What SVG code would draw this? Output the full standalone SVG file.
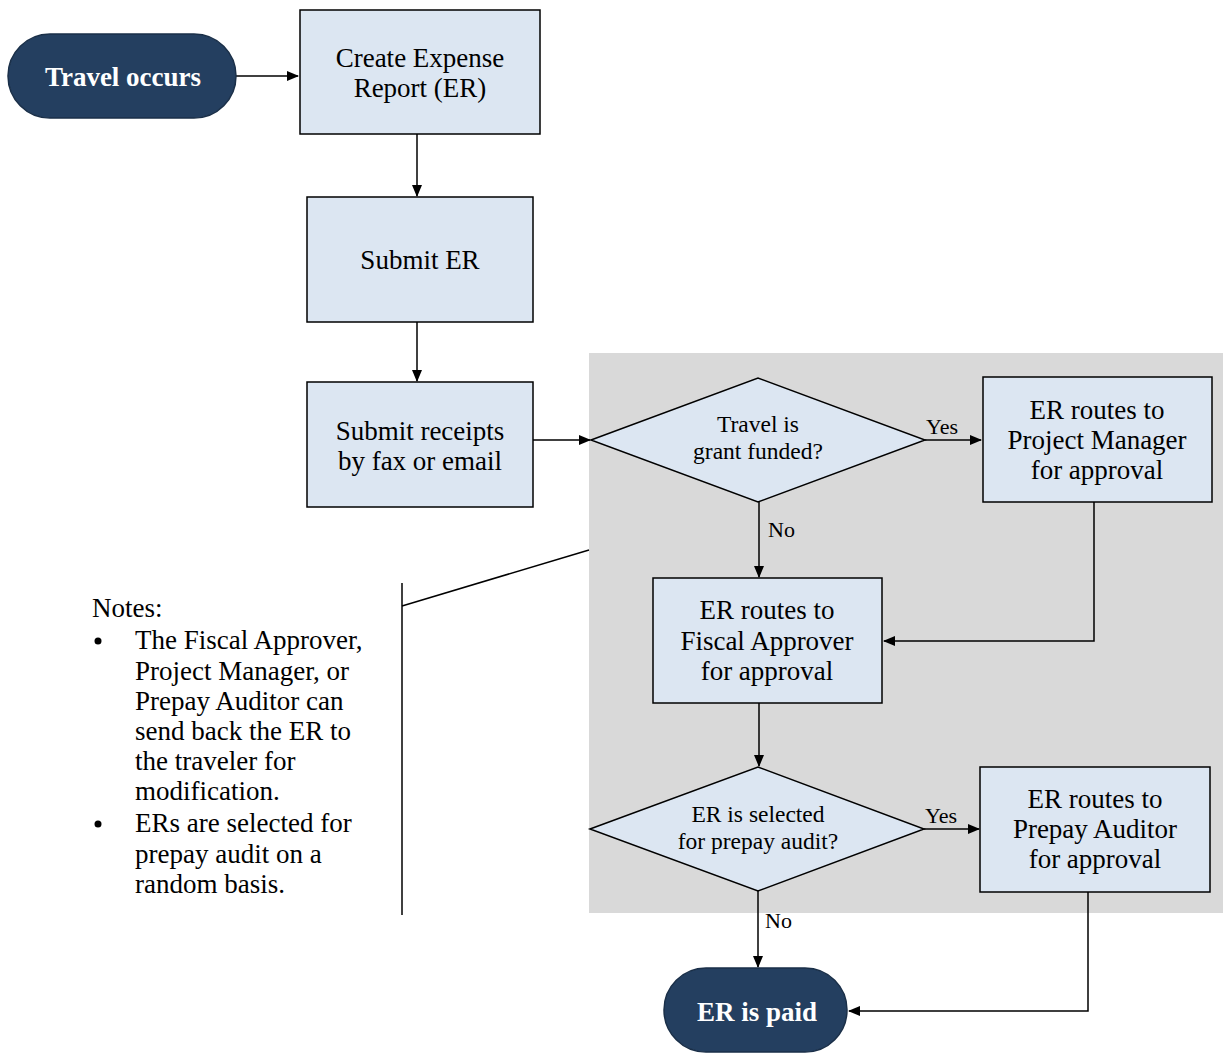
<svg xmlns="http://www.w3.org/2000/svg" width="1223" height="1053" viewBox="0 0 1223 1053">
<defs>
<marker id="arr" markerWidth="12" markerHeight="10" refX="11" refY="5" orient="auto" markerUnits="userSpaceOnUse">
<path d="M0,0 L12,5 L0,10 Z" fill="#000"/>
</marker>
<style>
.box{fill:#DCE6F2;stroke:#000;stroke-width:1.5}
.term{fill:#243F60;stroke:#1a2f48;stroke-width:1.5}
.t{font-family:"Liberation Serif","Times New Roman",serif;font-size:27px;fill:#000;text-anchor:middle}
.d{font-family:"Liberation Serif","Times New Roman",serif;font-size:23.5px;fill:#000;text-anchor:middle}
.tt{font-family:"Liberation Serif","Times New Roman",serif;font-size:27px;font-weight:bold;fill:#fff;text-anchor:middle}
.lbl{font-family:"Liberation Serif","Times New Roman",serif;font-size:22px;fill:#000}
.n{font-family:"Liberation Serif","Times New Roman",serif;font-size:27px;fill:#000}
.c{fill:none;stroke:#000;stroke-width:1.5}
</style>
</defs>
<rect x="589" y="353" width="634" height="560" fill="#D9D9D9"/>
<g id="connectors">
<line class="c" x1="236" y1="76" x2="298" y2="76" marker-end="url(#arr)"/>
<line class="c" x1="417" y1="134" x2="417" y2="196" marker-end="url(#arr)"/>
<line class="c" x1="417" y1="322" x2="417" y2="381" marker-end="url(#arr)"/>
<line class="c" x1="533" y1="440" x2="590" y2="440" marker-end="url(#arr)"/>
<line class="c" x1="925" y1="440" x2="981" y2="440" marker-end="url(#arr)"/>
<line class="c" x1="759" y1="502" x2="759" y2="577" marker-end="url(#arr)"/>
<polyline class="c" points="1094,502 1094,641 884,641" marker-end="url(#arr)"/>
<line class="c" x1="759" y1="703" x2="759" y2="766" marker-end="url(#arr)"/>
<line class="c" x1="924" y1="829" x2="979" y2="829" marker-end="url(#arr)"/>
<line class="c" x1="758" y1="891" x2="758" y2="967" marker-end="url(#arr)"/>
<polyline class="c" points="1088,892 1088,1011 849,1011" marker-end="url(#arr)"/>
<text class="lbl" x="926" y="434">Yes</text>
<text class="lbl" x="768" y="537">No</text>
<text class="lbl" x="925" y="823">Yes</text>
<text class="lbl" x="765" y="928">No</text>
</g>
<g id="travel-occurs">
<rect class="term" x="8" y="34" width="228" height="84" rx="42" ry="42"/>
<text class="tt" x="123" y="86">Travel occurs</text>
</g>
<g id="create-er">
<rect class="box" x="300" y="10" width="240" height="124"/>
<text class="t" x="420" y="67">Create Expense</text>
<text class="t" x="420" y="97">Report (ER)</text>
</g>
<g id="submit-er">
<rect class="box" x="307" y="197" width="226" height="125"/>
<text class="t" x="420" y="269">Submit ER</text>
</g>
<g id="submit-receipts">
<rect class="box" x="307" y="382" width="226" height="125"/>
<text class="t" x="420" y="440">Submit receipts</text>
<text class="t" x="420" y="470">by fax or email</text>
</g>
<g id="grant-funded">
<polygon class="box" points="591,440 758,378 925,440 758,502"/>
<text class="d" x="758" y="432">Travel is</text>
<text class="d" x="758" y="459">grant funded?</text>
</g>
<g id="pm-approval">
<rect class="box" x="983" y="377" width="229" height="125"/>
<text class="t" x="1097" y="419">ER routes to</text>
<text class="t" x="1097" y="449">Project Manager</text>
<text class="t" x="1097" y="479">for approval</text>
</g>
<g id="fiscal-approval">
<rect class="box" x="653" y="578" width="229" height="125"/>
<text class="t" x="767" y="619">ER routes to</text>
<text class="t" x="767" y="650">Fiscal Approver</text>
<text class="t" x="767" y="680">for approval</text>
</g>
<g id="prepay-audit">
<polygon class="box" points="590,829 758,767 924,829 758,891"/>
<text class="d" x="758" y="822">ER is selected</text>
<text class="d" x="758" y="849">for prepay audit?</text>
</g>
<g id="auditor-approval">
<rect class="box" x="980" y="767" width="230" height="125"/>
<text class="t" x="1095" y="808">ER routes to</text>
<text class="t" x="1095" y="838">Prepay Auditor</text>
<text class="t" x="1095" y="868">for approval</text>
</g>
<g id="er-paid">
<rect class="term" x="664" y="968" width="183" height="84" rx="42" ry="42"/>
<text class="tt" x="757" y="1021">ER is paid</text>
</g>
<g id="notes">
<line class="c" x1="402" y1="583" x2="402" y2="915"/>
<line class="c" x1="402" y1="606" x2="589" y2="550"/>
<text class="n" x="92" y="617">Notes:</text>
<circle cx="98" cy="641" r="3.5" fill="#000"/>
<text class="n" x="135" y="649">The Fiscal Approver,</text>
<text class="n" x="135" y="680">Project Manager, or</text>
<text class="n" x="135" y="710">Prepay Auditor can</text>
<text class="n" x="135" y="740">send back the ER to</text>
<text class="n" x="135" y="770">the traveler for</text>
<text class="n" x="135" y="800">modification.</text>
<circle cx="98" cy="824" r="3.5" fill="#000"/>
<text class="n" x="135" y="832">ERs are selected for</text>
<text class="n" x="135" y="863">prepay audit on a</text>
<text class="n" x="135" y="893">random basis.</text>
</g>
</svg>
